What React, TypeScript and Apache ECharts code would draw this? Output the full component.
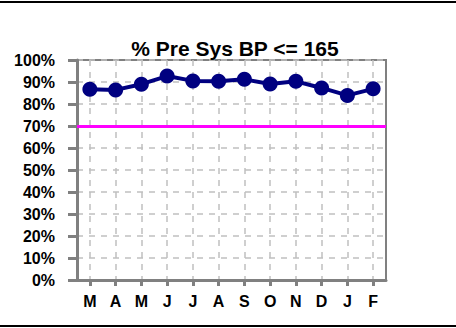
import React, { useEffect, useRef } from "react";
import * as echarts from "echarts";

const months: string[] = ["M", "A", "M", "J", "J", "A", "S", "O", "N", "D", "J", "F"];
const pctPreSysBP: number[] = [86.7, 86.4, 89, 92.7, 90.5, 90.3, 91.2, 89.1, 90.3, 87.3, 83.9, 86.9];
const target = 70;
const titleText = "% Pre Sys BP <= 165";

export default function App() {
  const ref = useRef<HTMLDivElement>(null);
  useEffect(() => {
    if (!ref.current) return;
    const chart = echarts.init(ref.current, null, { renderer: "svg" });
    const gray = "#808080";
    const grid = "#c0c0c0";
    chart.setOption({
      animation: false,
      backgroundColor: "#ffffff",
      title: {
        text: titleText,
        left: 230,
        top: 33,
        textAlign: "center",
        textStyle: { fontFamily: "Liberation Sans, Arial, sans-serif", fontWeight: "bold", fontSize: 21, color: "#000" },
      },
      grid: {
        left: 77,
        right: 70,
        top: 60,
        bottom: 48,
        show: true,
        borderColor: gray,
        borderWidth: 2,
        backgroundColor: "transparent",
      },
      xAxis: {
        type: "category",
        data: months,
        boundaryGap: true,
        axisLine: { lineStyle: { color: gray, width: 3 } },
        axisTick: { show: true, alignWithLabel: true, length: 6, lineStyle: { color: gray, width: 3 } },
        axisLabel: {
          margin: 13,
          color: "#000",
          fontFamily: "Liberation Sans, Arial, sans-serif",
          fontWeight: "bold",
          fontSize: 16,
          interval: 0,
        },
        splitLine: { show: true, alignWithLabel: true, interval: 0, lineStyle: { color: grid, width: 1.5, type: [6, 6] } },
      },
      yAxis: {
        type: "value",
        min: 0,
        max: 100,
        interval: 10,
        axisLine: { show: true, lineStyle: { color: gray, width: 3 } },
        axisTick: { show: true, length: 9, lineStyle: { color: gray, width: 3 } },
        axisLabel: {
          formatter: "{value}%",
          margin: 22,
          color: "#000",
          fontFamily: "Liberation Sans, Arial, sans-serif",
          fontWeight: "bold",
          fontSize: 16,
        },
        splitLine: { show: true, lineStyle: { color: grid, width: 1.5, type: [6, 6] } },
      },
      graphic: [
        { type: "line", shape: { x1: 0, y1: 2, x2: 456, y2: 2 }, style: { stroke: "#000", lineWidth: 2 } },
        { type: "line", shape: { x1: 0, y1: 326, x2: 456, y2: 326 }, style: { stroke: "#000", lineWidth: 2 } },
      ],
      series: [
        {
          type: "line",
          data: pctPreSysBP,
          symbol: "circle",
          symbolSize: 15,
          lineStyle: { color: "#000080", width: 4 },
          itemStyle: { color: "#000080" },
          markLine: {
            silent: true,
            symbol: "none",
            label: { show: false },
            lineStyle: { color: "#ff00ff", width: 3, type: "solid" },
            data: [{ yAxis: target }],
          },
          z: 5,
        },
      ],
    });
    return () => chart.dispose();
  }, []);
  return <div ref={ref} style={{ position: "fixed", left: 0, top: 0, width: 456, height: 328 }} />;
}
